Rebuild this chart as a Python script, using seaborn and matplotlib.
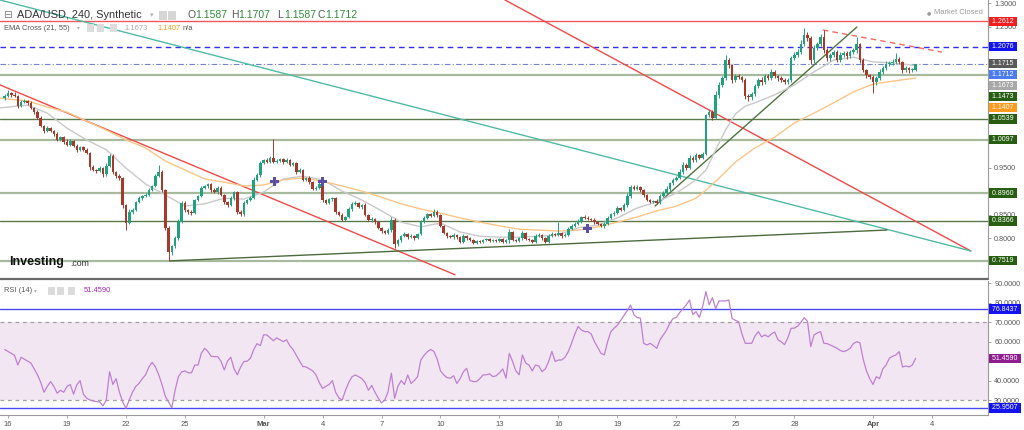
import numpy as np
import pandas as pd
import matplotlib
matplotlib.use("Agg")
import matplotlib.pyplot as plt
import matplotlib.transforms as mtransforms
from matplotlib.lines import Line2D
from matplotlib.patches import Rectangle
import seaborn as sns

sns.set_theme(style="white")
plt.rcParams['font.family'] = ['Liberation Sans', 'DejaVu Sans']

# ---------------- data (ADA/USD, 4h candles) ----------------
start_time = "2021-02-15 20:00"
ref_day = "2021-02-16"
first_open = 1.098
closes = [
    1.103, 1.109, 1.105, 1.103, 1.081, 1.090, 1.092, 1.088, 1.077, 1.068,
    1.056, 1.039, 1.028, 1.034, 1.028, 1.022, 1.009, 1.015, 1.005, 0.998,
    1.007, 0.996, 0.988, 0.994, 0.988, 0.981, 0.951, 0.945, 0.943, 0.949,
    0.936, 0.954, 0.975, 0.941, 0.932, 0.928, 0.870, 0.832, 0.856, 0.860,
    0.877, 0.885, 0.890, 0.892, 0.902, 0.911, 0.932, 0.941, 0.902, 0.822,
    0.770, 0.783, 0.800, 0.834, 0.875, 0.860, 0.856, 0.853, 0.881, 0.890,
    0.907, 0.911, 0.915, 0.902, 0.898, 0.907, 0.892, 0.877, 0.870, 0.885,
    0.898, 0.856, 0.851, 0.875, 0.881, 0.885, 0.924, 0.934, 0.960, 0.966,
    0.962, 0.971, 0.962, 0.964, 0.968, 0.962, 0.966, 0.956, 0.960, 0.941,
    0.945, 0.924, 0.928, 0.919, 0.905, 0.907, 0.915, 0.881, 0.875, 0.883,
    0.885, 0.856, 0.849, 0.839, 0.845, 0.862, 0.873, 0.875, 0.866, 0.870,
    0.849, 0.839, 0.841, 0.834, 0.822, 0.815, 0.811, 0.817, 0.839, 0.787,
    0.796, 0.804, 0.809, 0.802, 0.804, 0.800, 0.809, 0.834, 0.843, 0.851,
    0.847, 0.856, 0.849, 0.826, 0.811, 0.804, 0.802, 0.807, 0.802, 0.792,
    0.804, 0.800, 0.796, 0.790, 0.794, 0.792, 0.796, 0.798, 0.794, 0.796,
    0.794, 0.798, 0.792, 0.796, 0.813, 0.796, 0.794, 0.800, 0.811, 0.798,
    0.796, 0.792, 0.804, 0.807, 0.800, 0.792, 0.804, 0.809, 0.807, 0.811,
    0.804, 0.807, 0.819, 0.826, 0.830, 0.836, 0.845, 0.843, 0.841, 0.839,
    0.834, 0.830, 0.826, 0.830, 0.843, 0.851, 0.853, 0.864, 0.860, 0.870,
    0.890, 0.909, 0.905, 0.909, 0.902, 0.892, 0.881, 0.877, 0.879, 0.875,
    0.890, 0.896, 0.905, 0.917, 0.924, 0.928, 0.941, 0.956, 0.949, 0.971,
    0.966, 0.977, 0.971, 0.979, 1.062, 1.068, 1.056, 1.105, 1.126, 1.141,
    1.179, 1.168, 1.137, 1.145, 1.143, 1.137, 1.103, 1.100, 1.107, 1.124,
    1.137, 1.132, 1.145, 1.141, 1.154, 1.145, 1.141, 1.137, 1.132, 1.137,
    1.183, 1.190, 1.196, 1.213, 1.232, 1.226, 1.179, 1.205, 1.213, 1.228,
    1.200, 1.183, 1.190, 1.196, 1.179, 1.190, 1.194, 1.188, 1.196, 1.200,
    1.213, 1.179, 1.158, 1.147, 1.143, 1.132, 1.141, 1.154, 1.162, 1.171,
    1.173, 1.175, 1.181, 1.175, 1.158, 1.162, 1.158, 1.1587, 1.1712,
]
# wick lengths above / below the body, in thousandths
wick_up = [
    4, 6, 3, 5, 2, 3, 4, 2, 3, 2, 4, 3, 2, 5, 3, 2, 4, 3, 2, 5,
    3, 2, 4, 3, 2, 3, 2, 4, 3, 5, 2, 6, 5, 3, 2, 4, 3, 2, 5, 4,
    3, 4, 2, 3, 5, 3, 4, 15, 3, 2, 4, 3, 5, 6, 5, 3, 2, 4, 3, 2,
    4, 3, 2, 3, 5, 3, 4, 2, 3, 4, 3, 2, 3, 4, 2, 5, 6, 4, 5, 3,
    4, 3, 39, 4, 3, 2, 4, 3, 2, 3, 4, 2, 3, 4, 2, 3, 4, 2, 3, 3,
    2, 3, 2, 4, 3, 5, 4, 3, 2, 3, 4, 2, 3, 2, 3, 2, 3, 4, 5, 3,
    3, 2, 3, 2, 4, 3, 2, 5, 4, 3, 2, 6, 4, 3, 2, 3, 2, 3, 2, 3,
    4, 2, 3, 2, 3, 2, 3, 2, 3, 2, 3, 2, 3, 2, 6, 3, 2, 3, 5, 2,
    3, 2, 4, 3, 2, 3, 4, 3, 2, 23, 3, 4, 5, 3, 4, 5, 3, 4, 3, 2,
    3, 2, 3, 4, 5, 3, 4, 5, 3, 4, 6, 5, 4, 3, 2, 3, 2, 3, 2, 4,
    3, 4, 5, 3, 4, 5, 6, 5, 3, 6, 4, 5, 3, 4, 3, 6, 4, 8, 6, 5,
    11, 4, 3, 5, 4, 3, 3, 4, 5, 5, 4, 6, 5, 4, 7, 4, 3, 4, 3, 4,
    5, 6, 7, 8, 15, 6, 5, 7, 5, 6, 15, 4, 5, 5, 4, 6, 5, 4, 5, 5,
    15, 3, 4, 3, 3, 4, 5, 6, 5, 6, 5, 6, 13, 5, 3, 4, 3, 4, 0,
]
wick_dn = [
    3, 2, 4, 3, 5, 2, 3, 4, 2, 3, 2, 3, 4, 2, 3, 4, 2, 3, 4, 3,
    2, 3, 4, 2, 3, 2, 5, 3, 4, 3, 5, 3, 2, 4, 3, 4, 5, 15, 3, 4,
    2, 3, 4, 2, 3, 2, 3, 2, 3, 5, 18, 6, 4, 3, 2, 5, 4, 3, 2, 3,
    2, 3, 4, 3, 2, 4, 3, 4, 3, 2, 3, 4, 5, 3, 2, 3, 2, 3, 4, 2,
    3, 2, 3, 2, 3, 4, 2, 3, 2, 4, 3, 2, 3, 4, 2, 3, 2, 4, 3, 2,
    3, 4, 3, 2, 3, 2, 4, 3, 2, 3, 2, 3, 4, 3, 2, 4, 3, 2, 3, 8,
    3, 4, 2, 3, 2, 3, 2, 3, 2, 3, 2, 3, 4, 3, 2, 3, 2, 3, 4, 3,
    2, 3, 2, 3, 2, 3, 2, 3, 2, 3, 2, 3, 2, 3, 7, 2, 3, 2, 3, 2,
    3, 2, 3, 2, 3, 2, 3, 2, 3, 2, 3, 2, 3, 2, 3, 2, 3, 2, 3, 2,
    3, 2, 3, 4, 3, 2, 3, 2, 3, 2, 3, 4, 3, 2, 3, 4, 3, 2, 3, 2,
    3, 2, 3, 4, 3, 2, 3, 4, 3, 2, 3, 4, 2, 3, 3, 5, 4, 3, 6, 5,
    4, 5, 6, 5, 4, 5, 6, 8, 5, 4, 5, 6, 4, 5, 4, 5, 6, 5, 4, 5,
    5, 4, 5, 4, 5, 6, 8, 6, 5, 4, 5, 6, 5, 4, 5, 4, 5, 6, 4, 5,
    5, 6, 5, 6, 5, 23, 6, 5, 4, 5, 4, 5, 4, 5, 6, 5, 6, 5, 4,
]
rsi_values = [
    56, 55, 54, 53, 48, 52, 51, 50, 49, 46,
    43, 39, 34, 37, 39.5, 37, 33.5, 35, 34, 37,
    38, 33, 37.8, 40, 33, 31, 30, 29.5, 29.2, 29,
    27, 30, 44.6, 38, 41, 34, 29, 25.7, 30, 34,
    37, 38.6, 41, 43, 47, 49.4, 47, 43, 38, 32,
    29, 26, 35, 42, 44.5, 45, 44, 44, 48, 48,
    54, 56.6, 55, 52.5, 52.3, 52.3, 50, 45.5, 50, 52,
    46, 43, 47, 49.8, 50, 51.5, 56, 59, 58, 63.5,
    63.5, 62, 60.5, 62, 61, 60, 61, 58, 56, 53,
    50, 47.2, 47, 46, 45, 42.9, 39, 36, 37, 38,
    40, 34, 31, 30, 35, 39, 42, 42.9, 42, 41,
    39, 35, 37.5, 34, 31, 28.5, 30, 34.3, 43.8, 30.9,
    37, 40, 38, 42.9, 38.5, 40, 42, 50.6, 53, 54.9,
    56, 55, 51, 45, 42.9, 41.5, 41.2, 42.5, 38.5, 41,
    44.6, 46.3, 40, 39.5, 39.5, 41, 42.9, 43, 43.5, 42,
    42.5, 44, 46, 41.2, 54, 49.8, 45, 43, 53.2, 49,
    48, 45, 48, 47.5, 44.6, 46, 49.8, 55, 49.8, 50.6,
    50.6, 52, 54.9, 59.2, 64, 67.8, 66, 65.2, 65.2, 64,
    60, 57, 54, 53.2, 60, 65.2, 67, 68.5, 71, 73.5,
    76, 78.9, 74, 72.5, 72.1, 59.2, 58.3, 59.2, 58, 56.6,
    61, 63.5, 66, 69.5, 72, 72.5, 75, 77, 79, 81.5,
    74, 75.5, 72.5, 78, 85.8, 79, 82.7, 77, 81, 81,
    81, 81.5, 72, 71, 70.3, 64, 59.2, 59.2, 59.2, 63,
    65.2, 62.5, 63.5, 62.5, 64, 65, 61, 60, 58.5, 62,
    66.9, 67, 68, 70, 72.4, 70.5, 57.5, 63.5, 64.5, 65.2,
    59.2, 59, 58.3, 57.5, 56.6, 55.5, 54.9, 55.5, 56.6, 59,
    60, 59.5, 51, 45, 41, 38, 42, 41, 46, 48,
    51.5, 52.5, 53.2, 54.9, 47, 47.5, 47, 48, 51.459,
]
# EMA curves (days after 16 Feb)
ema_days = [-0.4, 0, 1, 2, 3, 4, 5, 6, 7, 8, 9, 10, 11, 12, 13, 14, 15, 16, 17,
            18, 19, 20, 21, 22, 23, 24, 25, 26, 27, 28, 29, 30, 31, 32, 33, 34,
            35, 35.5, 36, 36.5, 37, 37.5, 38, 39, 40, 41, 42, 43, 44, 45, 46.17]
ema21 = [1.077, 1.079, 1.083, 1.066, 1.034, 1.009, 0.988, 0.949, 0.915, 0.892,
         0.868, 0.873, 0.885, 0.883, 0.898, 0.926, 0.932, 0.924, 0.900, 0.881,
         0.858, 0.834, 0.824, 0.832, 0.813, 0.804, 0.802, 0.802, 0.804, 0.807,
         0.822, 0.828, 0.843, 0.864, 0.877, 0.896, 0.924, 0.945, 0.988, 1.030,
         1.064, 1.081, 1.088, 1.105, 1.126, 1.154, 1.179, 1.185, 1.175, 1.173,
         1.1673]
ema55 = [1.098, 1.096, 1.092, 1.079, 1.068, 1.049, 1.030, 1.009, 0.992, 0.964,
         0.945, 0.926, 0.919, 0.911, 0.913, 0.924, 0.928, 0.921, 0.911, 0.900,
         0.887, 0.873, 0.862, 0.853, 0.843, 0.834, 0.826, 0.819, 0.817, 0.815,
         0.817, 0.824, 0.834, 0.845, 0.858, 0.868, 0.885, 0.902, 0.921, 0.941,
         0.962, 0.977, 0.992, 1.015, 1.045, 1.066, 1.088, 1.111, 1.128, 1.134,
         1.1407]
cross_days = [13.58, 16.02, 29.5]
cross_prices = [0.9215, 0.9215, 0.8195]

# drawn trend lines: (day0, price0, day1, price1)
red_lines = [(-0.407, 1.126, 22.74, 0.722), (25.28, 1.3068, 48.98, 0.7725)]
teal_line = (-0.407, 1.3068, 48.98, 0.7725)
support_line = (8.24, 0.7515, 44.71, 0.8172)
rising_line = (32.91, 0.8683, 43.18, 1.2493)
red_dashed_line = (41.45, 1.243, 47.51, 1.196)

sage_levels = [1.1473, 1.0097, 0.8960, 0.7519]
dark_levels = [1.0539, 0.8366]
red_level = 1.2612
blue_level = 1.2076
price_line = 1.1715
rsi_bands = [76.8437, 25.9507]

main_tags = [(1.2612, "1.2612", "#f01e1e"), (1.2076, "1.2076", "#1414f0"),
             (1.1715, "1.1715", "#5a5a5a"), (1.1712, "1.1712", "#4d7cf2"),
             (1.1673, "1.1673", "#a8a8a8"), (1.1473, "1.1473", "#275e12"),
             (1.1407, "1.1407", "#ff9a1c"), (1.0539, "1.0539", "#275e12"),
             (1.0097, "1.0097", "#275e12"), (0.8960, "0.8960", "#275e12"),
             (0.8366, "0.8366", "#275e12"), (0.7519, "0.7519", "#275e12")]
rsi_tags = [(76.8437, "76.8437", "#1414f0"), (51.4590, "51.4590", "#8e1e8e"),
            (25.9507, "25.9507", "#1414f0")]

# axis ticks that remain visible next to the tags
main_yticks = [1.30, 1.25, 0.95, 0.85, 0.80]
rsi_yticks = [30, 40, 60, 70, 80, 90]
xtick_days = [0, 3, 6, 9, 13, 16, 19, 22, 25, 28, 31, 34, 37, 40, 44, 47]
xtick_labels = ["16", "19", "22", "25", "Mar", "4", "7", "10", "13", "16",
                "19", "22", "25", "28", "Apr", "4"]

# ---------------- build frame ----------------
n = min(len(closes), len(wick_up), len(wick_dn), len(rsi_values))
closes_a = np.array(closes[:n])
opens_a = np.concatenate([[first_open], closes_a[:-1]])
highs_a = np.maximum(opens_a, closes_a) + np.array(wick_up[:n]) / 1000.0
lows_a = np.minimum(opens_a, closes_a) - np.array(wick_dn[:n]) / 1000.0
times = pd.date_range(start_time, periods=n, freq="4h")
days = ((times - pd.Timestamp(ref_day)) / pd.Timedelta(days=1)).values
df = pd.DataFrame({"day": days, "open": opens_a, "close": closes_a,
                   "high": highs_a, "low": lows_a, "rsi": rsi_values[:n]})

# ---------------- figure ----------------
W, H = 1024, 430
fig = plt.figure(figsize=(W / 100, H / 100), dpi=100)
fig.patch.set_facecolor("white")


def fx(px):
    return px / W


def fy(py):
    return 1 - py / H


ax = fig.add_axes([0, fy(278), 988 / W, 278 / H])
axr = fig.add_axes([0, fy(415), 988 / W, (415 - 281) / H], sharex=ax)

XL = (-0.407, 49.85)
YL = (0.7151, 1.3068)
RL = (22.28, 91.26)

GREEN = "#21a17e"
RED = "#a7382b"

# horizontal levels
for v in sage_levels:
    ax.axhline(v, color="#a8ba9e", lw=1.6, zorder=1)
for v in dark_levels:
    ax.axhline(v, color="#5b7a4c", lw=1.0, zorder=1)
ax.axhline(red_level, color="#f05a5a", lw=1.0, zorder=1)
ax.axhline(blue_level, color="#3030ee", lw=1.0, ls=(0, (4, 3)), zorder=1)
ax.axhline(price_line, color="#7585cc", lw=0.8, ls=(0, (5, 2, 1, 2)), zorder=1)

# trend lines
for (d0, p0, d1, p1) in red_lines:
    ax.plot([d0, d1], [p0, p1], color="#f24848", lw=1.0, zorder=2)
ax.plot([teal_line[0], teal_line[2]], [teal_line[1], teal_line[3]], color="#4fbaa4", lw=1.0, zorder=2)
ax.plot([support_line[0], support_line[2]], [support_line[1], support_line[3]], color="#4d6b3e", lw=1.0, zorder=2)
ax.plot([rising_line[0], rising_line[2]], [rising_line[1], rising_line[3]], color="#4f7440", lw=1.0, zorder=2)
ax.plot([red_dashed_line[0], red_dashed_line[2]], [red_dashed_line[1], red_dashed_line[3]],
        color="#f06a6a", lw=1.0, ls=(0, (4, 3)), zorder=2)

# EMA lines (seaborn)
sns.lineplot(x=ema_days, y=ema21, ax=ax, color="#c9c9c9", lw=1.0, estimator=None, sort=False, zorder=3)
sns.lineplot(x=ema_days, y=ema55, ax=ax, color="#fbc587", lw=1.0, estimator=None, sort=False, zorder=3)

# candles
up = df["close"] >= df["open"]
colors = np.where(up, GREEN, RED)
ax.vlines(df["day"], df["low"], df["high"], colors=colors, lw=0.7, zorder=4)
body_lo = np.minimum(df["open"], df["close"])
body_h = np.maximum(np.abs(df["close"] - df["open"]), 0.0018)
ax.bar(df["day"], body_h, bottom=body_lo, width=0.13, color=colors, lw=0, zorder=5)

# EMA cross markers
sns.scatterplot(x=cross_days, y=cross_prices, ax=ax, marker="P", s=42, color="#5a4fa3",
                edgecolor="none", zorder=6, legend=False)

ax.set_xlim(*XL)
ax.set_ylim(*YL)

# RSI panel
axr.axhspan(30, 70, color="#f2e6f3", lw=0, zorder=0)
for v in (30, 70):
    axr.axhline(v, color="#a0a0a0", lw=0.9, ls=(0, (3, 3)), zorder=1)
for v in rsi_bands:
    axr.axhline(v, color="#4848f5", lw=1.0, zorder=1)
sns.lineplot(data=df, x="day", y="rsi", ax=axr, color="#be80cf", lw=0.9, estimator=None, sort=False, zorder=3)
axr.set_ylim(*RL)
axr.set_xlim(*XL)

# axes styling
for a in (ax, axr):
    a.set_facecolor("white")
    for s in ("top", "left"):
        a.spines[s].set_visible(False)
    a.spines["right"].set_color("#9a9a9a")
    a.spines["right"].set_linewidth(0.8)
    a.yaxis.tick_right()
    a.set_xlabel("")
    a.set_ylabel("")
    a.tick_params(axis="y", direction="out", length=2.5, width=0.6, color="#9a9a9a",
                  labelsize=5.2, labelcolor="#555555", pad=2)
    a.grid(False)
ax.spines["bottom"].set_visible(False)
ax.tick_params(axis="x", bottom=False, labelbottom=False)
axr.spines["bottom"].set_color("#9a9a9a")
axr.spines["bottom"].set_linewidth(0.8)

ax.set_yticks(main_yticks)
ax.set_yticklabels([f"{v:.4f}" for v in main_yticks])
axr.set_yticks(rsi_yticks)
axr.set_yticklabels([f"{v:.4f}" for v in rsi_yticks])

axr.set_xticks(xtick_days)
axr.set_xticklabels(xtick_labels)
axr.tick_params(axis="x", bottom=True, direction="out", length=2.5, width=0.6, color="#9a9a9a",
                labelsize=5.5, labelcolor="#555555", pad=1.5)
for lab in axr.get_xticklabels():
    if lab.get_text() in ("Mar", "Apr"):
        lab.set_fontweight("bold")


# right-side value tags, stacked so they do not overlap
def place_tags(a, tags, gap_px, panel_px):
    lo, hi = a.get_ylim()
    gap = gap_px * (hi - lo) / panel_px
    trans = mtransforms.blended_transform_factory(a.transAxes, a.transData)
    prev = None
    for v, txt, fc in sorted(tags, key=lambda t: -t[0]):
        pos = v if prev is None else min(v, prev - gap)
        prev = pos
        a.text(1.0 + 2.5 / 988, pos, f" {txt} ", transform=trans, ha="left", va="center",
               fontsize=5.0, color="white", clip_on=False, zorder=20,
               bbox=dict(boxstyle="square,pad=0.17", fc=fc, ec="none"))


place_tags(ax, main_tags, 11, 278)
place_tags(axr, rsi_tags, 11, 134)

# panel separator
fig.add_artist(Line2D([0, 988 / W], [fy(278.6), fy(278.6)], color="#6a6a6a", lw=1.6))

# ---------------- header texts ----------------
fig.text(fx(3), fy(15), "⊟", fontsize=7.5, color="#777777", va="center", ha="left", family="DejaVu Sans")
fig.text(fx(17), fy(15), "ADA/USD, 240, Synthetic", fontsize=7.9, color="#333333", va="center", ha="left")
fig.text(fx(150), fy(15), "▾", fontsize=5, color="#b0b0b0", va="center", ha="left", family="DejaVu Sans")
for x0 in (159, 168):
    fig.add_artist(Rectangle((fx(x0), fy(20)), 8 / W, 9 / H, transform=fig.transFigure,
                             fc="#d6d6d6", ec="none"))
ohlc = [("O", "1.1587", 188), ("H", "1.1707", 231), ("L", "1.1587", 277), ("C", "1.1712", 318)]
for letter, val, x0 in ohlc:
    fig.text(fx(x0), fy(15), letter, fontsize=7.5, color="#555555", va="center", ha="left")
    fig.text(fx(x0 + 7), fy(15), val, fontsize=7.5, color="#2f8a3a", va="center", ha="left")

fig.text(fx(4), fy(28), "EMA Cross (21, 55)", fontsize=5.4, color="#555555", va="center", ha="left")
fig.text(fx(77), fy(28), "▾", fontsize=4, color="#b0b0b0", va="center", ha="left", family="DejaVu Sans")
for x0 in (87, 97, 110):
    fig.add_artist(Rectangle((fx(x0), fy(32)), 7 / W, 8 / H, transform=fig.transFigure,
                             fc="#dcdcdc", ec="none"))
fig.text(fx(124), fy(28), "1.1673", fontsize=5.4, color="#ababab", va="center", ha="left")
fig.text(fx(157), fy(28), "1.1407", fontsize=5.4, color="#ff9a1c", va="center", ha="left")
fig.text(fx(183), fy(28), "n/a", fontsize=5.4, color="#555555", va="center", ha="left")

fig.text(fx(4), fy(291), "RSI (14)", fontsize=5.4, color="#555555", va="center", ha="left")
fig.text(fx(34), fy(291), "▾", fontsize=4, color="#b0b0b0", va="center", ha="left", family="DejaVu Sans")
for x0 in (48, 57, 68):
    fig.add_artist(Rectangle((fx(x0), fy(295)), 7 / W, 8 / H, transform=fig.transFigure,
                             fc="#dcdcdc", ec="none"))
fig.text(fx(84), fy(291), "51.4590", fontsize=5.4, color="#9c27b0", va="center", ha="left")

fig.text(fx(927), fy(13), "●", fontsize=3.5, color="#9a9a9a", va="center", ha="left", family="DejaVu Sans")
fig.text(fx(934), fy(13), "Market Closed", fontsize=5.4, color="#9a9a9a", va="center", ha="left")

fig.text(fx(9), fy(262), "Investing", fontsize=9, fontweight="bold", color="#111111", va="center", ha="left")
fig.text(fx(70), fy(264), ".com", fontsize=6.3, color="#333333", va="center", ha="left")

fig.savefig("out.png", dpi=100, facecolor="white")
